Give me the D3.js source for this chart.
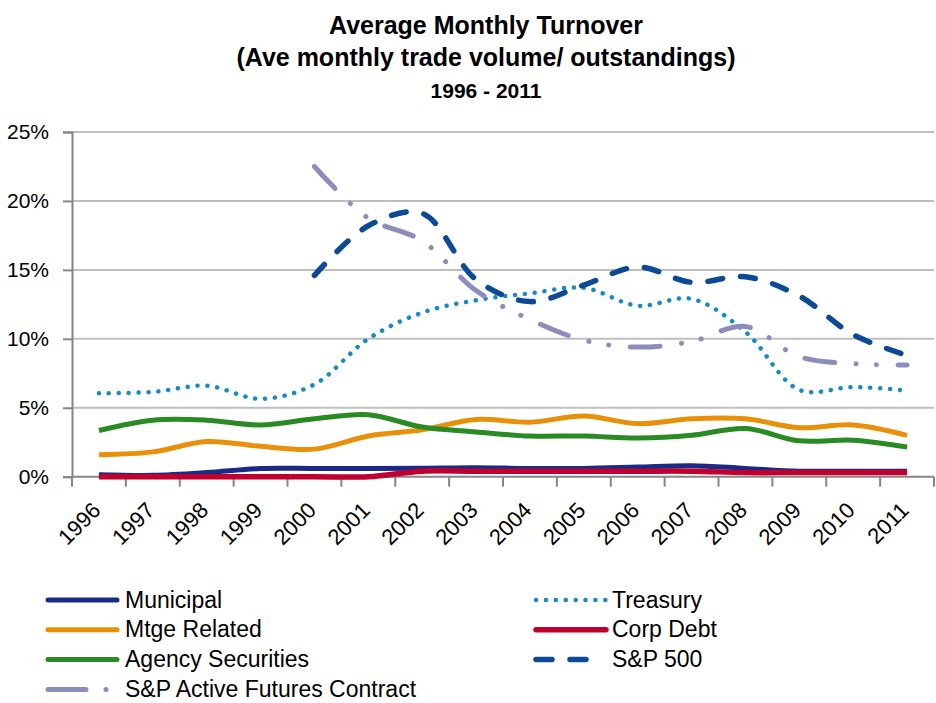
<!DOCTYPE html>
<html>
<head>
<meta charset="utf-8">
<script src="https://cdn.jsdelivr.net/npm/d3@7"></script>
<style>
  body { margin: 0; background: #fff; }
  svg { display: block; }
</style>
</head>
<body>
<div id="chart-area"></div>
<script>
// data (percent of outstandings)
var years = ["1996","1997","1998","1999","2000","2001","2002","2003",
             "2004","2005","2006","2007","2008","2009","2010","2011"];
var yTicks = [0, 5, 10, 15, 20, 25];

var municipal = [0.15,0.1,0.3,0.6,0.6,0.6,0.62,0.65,0.6,0.6,0.7,0.8,0.6,0.4,0.4,0.4];
var treasury  = [6.05,6.15,6.6,5.65,6.7,10.0,11.9,12.8,13.3,13.7,12.4,12.9,10.5,6.3,6.5,6.25];
var mtge      = [1.6,1.8,2.55,2.2,2.0,2.95,3.4,4.15,3.95,4.4,3.85,4.2,4.2,3.55,3.75,3.0];
var corpDebt  = [0,0,0,0,0,0,0.4,0.4,0.4,0.4,0.4,0.4,0.3,0.3,0.3,0.3];
var agency    = [3.35,4.1,4.1,3.75,4.2,4.5,3.6,3.25,2.95,2.95,2.8,3.0,3.5,2.6,2.65,2.15];
var sp500     = [null,null,null,null,14.6,18.2,19.1,14.3,12.7,13.9,15.2,14.1,14.5,13.1,10.3,8.8];
var spFutures = [null,null,null,null,22.5,18.75,17.1,13.5,11.4,9.9,9.4,9.8,10.9,8.7,8.2,8.1];

// series in Excel order (legend reads row by row)
var series = [
  { name: "Municipal",      values: municipal, color: "#1b2a84", width: 5,   dash: null },
  { name: "Treasury",       values: treasury,  color: "#1a8ac6", width: 4.5, dash: "0.1 9.8" },
  { name: "Mtge Related",   values: mtge,      color: "#e8900a", width: 5,   dash: null },
  { name: "Corp Debt",      values: corpDebt,  color: "#c0002e", width: 5.5, dash: null },
  { name: "Agency Securities", values: agency, color: "#2a8a24", width: 5,   dash: null },
  { name: "S&P 500",        values: sp500,     color: "#0c4a98", width: 5.5, dash: "15 18" },
  { name: "S&P Active Futures Contract", values: spFutures, color: "#8b8dbd", width: 5, dash: "30 21.5 0.1 20 0.1 21.5" }
];

var W = 936, H = 703;
var plot = { left: 72, right: 934, top: 132, bottom: 476.7 };

var svg = d3.select("#chart-area")
  .append("svg")
    .attr("width", W)
    .attr("height", H)
    .style("font-family", "'Liberation Sans', Arial, sans-serif");

// titles
var titles = [
  { t: "Average Monthly Turnover", y: 34, size: 25 },
  { t: "(Ave monthly trade volume/ outstandings)", y: 66, size: 25 },
  { t: "1996 - 2011", y: 98, size: 21 }
];
svg.selectAll("text.title")
  .data(titles)
  .enter().append("text")
    .attr("class", "title")
    .attr("x", 486)
    .attr("y", function(d){ return d.y; })
    .attr("text-anchor", "middle")
    .attr("font-weight", "bold")
    .attr("font-size", function(d){ return d.size + "px"; })
    .attr("fill", "#000")
    .text(function(d){ return d.t; });

// scales
var x = d3.scaleBand()
  .domain(years)
  .range([plot.left, plot.right]);

var y = d3.scaleLinear()
  .domain([0, 25])
  .range([plot.bottom, plot.top]);

// gridlines
svg.append("g")
  .selectAll("line")
  .data(yTicks.slice(1))
  .enter().append("line")
    .attr("x1", plot.left)
    .attr("x2", plot.right)
    .attr("y1", function(d){ return y(d); })
    .attr("y2", function(d){ return y(d); })
    .attr("stroke", "#bfbfbf")
    .attr("stroke-width", 2);

// y axis
var yAxisGroup = svg.append("g")
  .attr("transform", "translate(" + plot.left + ",0)")
  .call(d3.axisLeft(y)
    .tickValues(yTicks)
    .tickSize(9)
    .tickPadding(14)
    .tickFormat(function(d){ return d + "%"; }));
yAxisGroup.select(".domain").attr("stroke", "#868686").attr("stroke-width", 2);
yAxisGroup.selectAll(".tick line").attr("stroke", "#868686").attr("stroke-width", 2);
yAxisGroup.selectAll(".tick text")
  .attr("font-size", "21px")
  .attr("font-family", "'Liberation Sans', Arial, sans-serif")
  .attr("fill", "#000");

// x axis: ticks on category boundaries
var xAxisGroup = svg.append("g")
  .attr("transform", "translate(0," + plot.bottom + ")");
xAxisGroup.append("line")
  .attr("x1", plot.left).attr("x2", plot.right)
  .attr("stroke", "#868686").attr("stroke-width", 2);
var bounds = years.map(function(d){ return x(d); }).concat([plot.right]);
xAxisGroup.selectAll("line.tk")
  .data(bounds)
  .enter().append("line")
    .attr("class", "tk")
    .attr("x1", function(d){ return d; })
    .attr("x2", function(d){ return d; })
    .attr("y1", 0).attr("y2", 10)
    .attr("stroke", "#868686").attr("stroke-width", 2);
xAxisGroup.selectAll("text")
  .data(years)
  .enter().append("text")
    .attr("text-anchor", "end")
    .attr("font-size", "22px")
    .attr("fill", "#000")
    .attr("transform", function(d){
      return "translate(" + (x(d) + x.bandwidth() / 2 + 3) + ",35) rotate(-45)";
    })
    .text(function(d){ return d; });

// lines
var line = d3.line()
  .defined(function(d){ return d != null; })
  .x(function(d, i){ return x(years[i]) + x.bandwidth() / 2; })
  .y(function(d){ return y(d); })
  .curve(d3.curveCatmullRom.alpha(0.5));

svg.append("g")
  .selectAll("path")
  .data(series)
  .enter().append("path")
    .attr("fill", "none")
    .attr("stroke", function(d){ return d.color; })
    .attr("stroke-width", function(d){ return d.width; })
    .attr("stroke-linecap", function(d){ return d.dash ? "round" : "butt"; })
    .attr("stroke-linejoin", "round")
    .attr("stroke-dasharray", function(d){ return d.dash; })
    .attr("d", function(d){ return line(d.values); });

// legend, two columns filled row by row
var legend = svg.append("g")
  .selectAll("g")
  .data(series)
  .enter().append("g")
    .attr("transform", function(d, i){
      var col = i % 2, row = Math.floor(i / 2);
      return "translate(" + (col ? 536 : 48) + "," + (600 + row * 29.8) + ")";
    });

legend.append("line")
  .attr("x1", 0)
  .attr("x2", function(d, i){ return i % 2 ? 70 : 69; })
  .attr("stroke", function(d){ return d.color; })
  .attr("stroke-width", function(d){ return d.width; })
  .attr("stroke-linecap", "round")
  .attr("stroke-dasharray", function(d){
    if (d.name == "S&P Active Futures Contract") return "38 20 0.1 100";
    if (d.name == "S&P 500") return "16 18 16 100";
    return d.dash;
  });

legend.append("text")
  .attr("x", function(d, i){ return i % 2 ? 76 : 77; })
  .attr("y", 7.5)
  .attr("font-size", "23px")
  .attr("fill", "#000")
  .text(function(d){ return d.name; });
</script>
</body>
</html>
